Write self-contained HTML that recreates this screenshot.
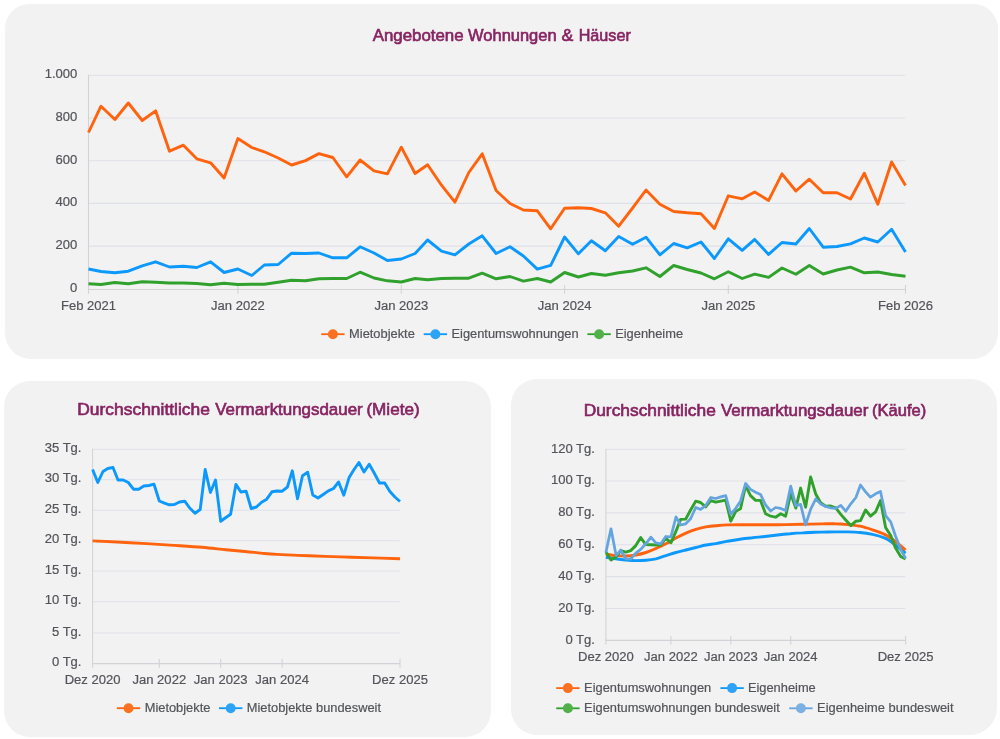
<!DOCTYPE html>
<html lang="de">
<head>
<meta charset="utf-8">
<title>Marktdaten</title>
<style>
html,body{margin:0;padding:0;background:#fff;}
body{width:1000px;height:739px;position:relative;overflow:hidden;font-family:"Liberation Sans",sans-serif;}
.card{position:absolute;background:#f2f2f2;border-radius:26px;}
#c1{left:4.6px;top:4.2px;width:993.7px;height:354.9px;border-radius:24.5px 24.5px 26px 26px;}
#c2{left:3.6px;top:380.5px;width:487.7px;height:356.8px;}
#c3{left:510.9px;top:378.6px;width:486.5px;height:356px;border-radius:26px 26px 27.5px 26px;}
svg{position:absolute;left:0;top:0;}
#wrap{position:absolute;left:0;top:0;width:1000px;height:739px;filter:blur(.35px);}
.t{font-family:"Liberation Sans",sans-serif;font-size:13.05px;fill:#53545a;stroke:#53545a;stroke-width:.2px;}
.l{font-family:"Liberation Sans",sans-serif;font-size:12.85px;fill:#53545a;stroke:#53545a;stroke-width:.2px;}
.h{font-family:"Liberation Sans",sans-serif;font-size:15.7px;fill:#872462;stroke:#872462;stroke-width:.6px;}
</style>
</head>
<body>
<div id="wrap">
<div class="card" id="c1"></div>
<div class="card" id="c2"></div>
<div class="card" id="c3"></div>
<svg width="1000" height="739" viewBox="0 0 1000 739">
<g>
<line x1="88.5" y1="75.30" x2="905.2" y2="75.30" stroke="#dfe1e8" stroke-width="1.1"/>
<line x1="88.5" y1="118.00" x2="905.2" y2="118.00" stroke="#dfe1e8" stroke-width="1.1"/>
<line x1="88.5" y1="160.70" x2="905.2" y2="160.70" stroke="#dfe1e8" stroke-width="1.1"/>
<line x1="88.5" y1="203.40" x2="905.2" y2="203.40" stroke="#dfe1e8" stroke-width="1.1"/>
<line x1="88.5" y1="246.10" x2="905.2" y2="246.10" stroke="#dfe1e8" stroke-width="1.1"/>
<line x1="88.0" y1="289.50" x2="905.5" y2="289.50" stroke="#d2d3d6" stroke-width="1.1"/>
<line x1="88.5" y1="74.8" x2="88.5" y2="293.7" stroke="#d2d3d6" stroke-width="1.1"/>
<line x1="237.9" y1="285.0" x2="237.9" y2="293.7" stroke="#d2d3d6" stroke-width="1.1"/>
<line x1="401.3" y1="285.0" x2="401.3" y2="293.7" stroke="#d2d3d6" stroke-width="1.1"/>
<line x1="564.6" y1="285.0" x2="564.6" y2="293.7" stroke="#d2d3d6" stroke-width="1.1"/>
<line x1="728.3" y1="285.0" x2="728.3" y2="293.7" stroke="#d2d3d6" stroke-width="1.1"/>
<line x1="905.5" y1="285.0" x2="905.5" y2="293.7" stroke="#d2d3d6" stroke-width="1.1"/>
<text x="77.3" y="78.2" text-anchor="end" class="t">1.000</text>
<text x="77.3" y="120.9" text-anchor="end" class="t">800</text>
<text x="77.3" y="163.6" text-anchor="end" class="t">600</text>
<text x="77.3" y="206.3" text-anchor="end" class="t">400</text>
<text x="77.3" y="249.0" text-anchor="end" class="t">200</text>
<text x="77.3" y="291.8" text-anchor="end" class="t">0</text>
<text x="88.5" y="309.9" text-anchor="middle" class="t">Feb 2021</text>
<text x="237.9" y="309.9" text-anchor="middle" class="t">Jan 2022</text>
<text x="401.3" y="309.9" text-anchor="middle" class="t">Jan 2023</text>
<text x="564.6" y="309.9" text-anchor="middle" class="t">Jan 2024</text>
<text x="728.3" y="309.9" text-anchor="middle" class="t">Jan 2025</text>
<text x="905.5" y="309.9" text-anchor="middle" class="t">Feb 2026</text>
<polyline points="88.5,283.8 101.0,284.5 114.9,282.5 128.3,283.8 142.2,281.8 155.6,282.2 169.5,283.0 183.4,283.0 196.8,283.5 210.6,284.8 224.1,283.2 237.9,284.5 251.8,284.2 264.3,284.2 278.2,282.2 291.6,280.2 305.5,280.8 318.9,278.8 332.8,278.5 346.7,278.5 360.1,272.2 374.0,278.0 387.4,280.8 401.3,282.0 415.1,278.5 427.6,279.8 441.5,278.5 454.9,278.2 468.8,278.2 482.2,273.2 496.1,278.8 510.0,276.5 523.4,281.1 537.3,278.5 550.7,282.0 564.6,272.5 578.4,277.0 591.4,273.5 605.3,275.2 618.7,272.8 632.6,271.0 646.0,267.8 659.9,276.5 673.7,265.5 687.2,269.5 701.0,273.0 714.4,278.8 728.3,271.8 742.2,278.5 754.7,274.1 768.6,277.4 782.0,268.0 795.9,274.2 809.3,265.5 823.2,274.0 837.0,270.0 850.5,267.2 864.3,272.8 877.8,272.0 891.6,274.5 905.5,276.2" fill="none" stroke="#30a12c" stroke-width="2.9" stroke-linejoin="round" stroke-linecap="butt"/>
<polyline points="88.5,269.0 101.0,271.5 114.9,272.8 128.3,271.2 142.2,265.8 155.6,261.8 169.5,267.0 183.4,266.2 196.8,267.5 210.6,261.8 224.1,272.5 237.9,269.0 251.8,275.5 264.3,265.0 278.2,264.5 291.6,253.2 305.5,253.5 318.9,253.0 332.8,257.8 346.7,257.8 360.1,246.8 374.0,253.0 387.4,260.5 401.3,259.0 415.1,253.5 427.6,240.0 441.5,251.2 454.9,254.8 468.8,244.0 482.2,235.8 496.1,253.5 510.0,246.8 523.4,256.0 537.3,269.1 550.7,265.4 564.6,237.0 578.4,253.8 591.4,240.8 605.3,250.8 618.7,236.5 632.6,244.2 646.0,237.2 659.9,254.8 673.7,243.5 687.2,247.8 701.0,242.0 714.4,258.5 728.3,238.8 742.2,250.4 754.7,239.4 768.6,254.4 782.0,242.5 795.9,244.0 809.3,228.5 823.2,247.2 837.0,246.5 850.5,243.8 864.3,238.0 877.8,242.0 891.6,229.2 905.5,252.0" fill="none" stroke="#0d98fc" stroke-width="2.9" stroke-linejoin="round" stroke-linecap="butt"/>
<polyline points="88.5,132.5 101.0,106.2 114.9,119.5 128.3,103.0 142.2,120.5 155.6,110.8 169.5,151.2 183.4,145.2 196.8,158.8 210.6,162.8 224.1,178.0 237.9,138.5 251.8,147.5 264.3,151.8 278.2,158.0 291.6,165.0 305.5,160.6 318.9,153.6 332.8,157.5 346.7,176.8 360.1,160.0 374.0,170.8 387.4,173.8 401.3,147.2 415.1,173.5 427.6,164.8 441.5,185.2 454.9,202.2 468.8,172.5 482.2,153.8 496.1,190.5 510.0,203.5 523.4,210.0 537.3,210.8 550.7,228.8 564.6,208.2 578.4,207.8 591.4,208.5 605.3,212.8 618.7,226.2 632.6,208.0 646.0,190.0 659.9,204.2 673.7,211.5 687.2,212.8 701.0,213.8 714.4,228.5 728.3,195.8 742.2,198.8 754.7,192.0 768.6,200.4 782.0,173.8 795.9,191.0 809.3,179.2 823.2,192.8 837.0,192.8 850.5,199.0 864.3,173.2 877.8,204.2 891.6,162.0 905.5,185.5" fill="none" stroke="#ff630e" stroke-width="2.9" stroke-linejoin="round" stroke-linecap="butt"/>
<line x1="321.2" y1="334.2" x2="344.6" y2="334.2" stroke="#ff630e" stroke-width="1.8"/><circle cx="332.9" cy="334.2" r="5" fill="#fa7122"/>
<text x="349.1" y="337.8" text-anchor="start" class="l">Mietobjekte</text>
<line x1="423.7" y1="334.2" x2="447.1" y2="334.2" stroke="#0d98fc" stroke-width="1.8"/><circle cx="435.4" cy="334.2" r="5" fill="#2da3f8"/>
<text x="451.5" y="337.8" text-anchor="start" class="l">Eigentumswohnungen</text>
<line x1="587.4" y1="334.2" x2="610.8" y2="334.2" stroke="#30a12c" stroke-width="1.8"/><circle cx="599.1" cy="334.2" r="5" fill="#52b04a"/>
<text x="615.2" y="337.8" text-anchor="start" class="l">Eigenheime</text>
<text y="41.10" class="h"><tspan x="372.7" textLength="90.9" lengthAdjust="spacingAndGlyphs">Angebotene</tspan> <tspan x="468.1" textLength="88.5" lengthAdjust="spacingAndGlyphs">Wohnungen</tspan> <tspan x="561.6" textLength="11.8" lengthAdjust="spacingAndGlyphs">&amp;</tspan> <tspan x="578.7" textLength="52.1" lengthAdjust="spacingAndGlyphs">Häuser</tspan></text>
</g>
<g>
<line x1="92.6" y1="449.30" x2="399.7" y2="449.30" stroke="#dfe1e8" stroke-width="1.1"/>
<line x1="92.6" y1="479.80" x2="399.7" y2="479.80" stroke="#dfe1e8" stroke-width="1.1"/>
<line x1="92.6" y1="510.30" x2="399.7" y2="510.30" stroke="#dfe1e8" stroke-width="1.1"/>
<line x1="92.6" y1="540.80" x2="399.7" y2="540.80" stroke="#dfe1e8" stroke-width="1.1"/>
<line x1="92.6" y1="571.00" x2="399.7" y2="571.00" stroke="#dfe1e8" stroke-width="1.1"/>
<line x1="92.6" y1="601.80" x2="399.7" y2="601.80" stroke="#dfe1e8" stroke-width="1.1"/>
<line x1="92.6" y1="633.00" x2="399.7" y2="633.00" stroke="#dfe1e8" stroke-width="1.1"/>
<line x1="92.1" y1="663.60" x2="400.0" y2="663.60" stroke="#d2d3d6" stroke-width="1.1"/>
<line x1="92.6" y1="448.8" x2="92.6" y2="667.8" stroke="#d2d3d6" stroke-width="1.1"/>
<line x1="159.3" y1="659.1" x2="159.3" y2="667.8" stroke="#d2d3d6" stroke-width="1.1"/>
<line x1="220.7" y1="659.1" x2="220.7" y2="667.8" stroke="#d2d3d6" stroke-width="1.1"/>
<line x1="282.2" y1="659.1" x2="282.2" y2="667.8" stroke="#d2d3d6" stroke-width="1.1"/>
<line x1="400.0" y1="659.1" x2="400.0" y2="667.8" stroke="#d2d3d6" stroke-width="1.1"/>
<text x="81.5" y="451.8" text-anchor="end" class="t">35 Tg.</text>
<text x="81.5" y="482.3" text-anchor="end" class="t">30 Tg.</text>
<text x="81.5" y="512.8" text-anchor="end" class="t">25 Tg.</text>
<text x="81.5" y="543.3" text-anchor="end" class="t">20 Tg.</text>
<text x="81.5" y="573.5" text-anchor="end" class="t">15 Tg.</text>
<text x="81.5" y="604.3" text-anchor="end" class="t">10 Tg.</text>
<text x="81.5" y="635.5" text-anchor="end" class="t">5 Tg.</text>
<text x="81.5" y="666.1" text-anchor="end" class="t">0 Tg.</text>
<text x="92.6" y="684.0" text-anchor="middle" class="t">Dez 2020</text>
<text x="159.3" y="684.0" text-anchor="middle" class="t">Jan 2022</text>
<text x="220.7" y="684.0" text-anchor="middle" class="t">Jan 2023</text>
<text x="282.2" y="684.0" text-anchor="middle" class="t">Jan 2024</text>
<text x="400.0" y="684.0" text-anchor="middle" class="t">Dez 2025</text>
<polyline points="92.6,469.5 97.8,482.5 103.0,471.5 107.8,468.5 113.0,467.5 118.0,480.0 123.2,480.0 128.3,482.5 133.5,489.2 138.7,489.2 143.8,486.0 149.0,485.5 154.0,484.2 159.3,501.0 164.5,503.2 169.2,504.8 174.4,504.5 179.5,502.0 184.7,501.2 189.7,508.0 195.0,513.2 200.2,509.5 205.2,469.5 210.4,492.5 215.5,480.0 220.7,521.2 225.9,517.5 230.6,514.2 235.9,484.4 240.9,492.0 246.1,491.2 251.2,508.5 256.4,507.0 261.6,502.2 266.7,499.2 271.9,491.8 276.9,491.0 282.2,491.2 287.4,487.0 292.3,470.8 297.5,498.8 302.5,475.8 307.7,472.2 312.8,495.0 318.0,498.0 323.2,494.5 328.3,490.8 333.5,488.5 338.6,482.0 343.8,495.2 349.0,477.8 353.7,470.0 358.9,462.5 364.0,472.0 369.2,464.2 374.2,473.0 379.5,483.0 384.7,483.0 389.7,491.2 394.9,497.0 400.0,501.5" fill="none" stroke="#0d98fc" stroke-width="2.9" stroke-linejoin="round" stroke-linecap="butt"/>
<path d="M92.6,540.9 C98.8,541.2 117.1,542.0 130.0,542.7 C142.9,543.4 158.0,544.3 170.0,545.1 C182.0,545.9 192.7,546.5 202.0,547.3 C211.3,548.1 218.8,549.1 226.0,549.8 C233.2,550.5 239.2,551.0 245.0,551.5 C250.8,552.0 255.7,552.6 261.0,553.1 C266.3,553.6 269.0,554.0 277.0,554.4 C285.0,554.8 298.3,555.4 309.0,555.8 C319.7,556.2 330.3,556.5 341.0,556.9 C351.7,557.2 363.2,557.6 373.0,557.9 C382.8,558.2 395.5,558.6 400.0,558.7" fill="none" stroke="#ff630e" stroke-width="2.9" stroke-linejoin="round"/>
<line x1="116.8" y1="708.2" x2="140.2" y2="708.2" stroke="#ff630e" stroke-width="1.8"/><circle cx="128.5" cy="708.2" r="5" fill="#fa7122"/>
<text x="144.7" y="711.8" text-anchor="start" class="l">Mietobjekte</text>
<line x1="219.0" y1="708.2" x2="242.4" y2="708.2" stroke="#0d98fc" stroke-width="1.8"/><circle cx="230.7" cy="708.2" r="5" fill="#2da3f8"/>
<text x="246.8" y="711.8" text-anchor="start" class="l">Mietobjekte bundesweit</text>
<text y="415.10" class="h"><tspan x="77.3" textLength="132.6" lengthAdjust="spacingAndGlyphs">Durchschnittliche</tspan> <tspan x="215.2" textLength="147.5" lengthAdjust="spacingAndGlyphs">Vermarktungsdauer</tspan> <tspan x="366.4" textLength="53.3" lengthAdjust="spacingAndGlyphs">(Miete)</tspan></text>
</g>
<g>
<line x1="605.9" y1="449.20" x2="905.3" y2="449.20" stroke="#dfe1e8" stroke-width="1.1"/>
<line x1="605.9" y1="481.06" x2="905.3" y2="481.06" stroke="#dfe1e8" stroke-width="1.1"/>
<line x1="605.9" y1="512.92" x2="905.3" y2="512.92" stroke="#dfe1e8" stroke-width="1.1"/>
<line x1="605.9" y1="544.78" x2="905.3" y2="544.78" stroke="#dfe1e8" stroke-width="1.1"/>
<line x1="605.9" y1="576.64" x2="905.3" y2="576.64" stroke="#dfe1e8" stroke-width="1.1"/>
<line x1="605.9" y1="608.50" x2="905.3" y2="608.50" stroke="#dfe1e8" stroke-width="1.1"/>
<line x1="605.4" y1="640.36" x2="905.6" y2="640.36" stroke="#d2d3d6" stroke-width="1.1"/>
<line x1="605.9" y1="448.7" x2="605.9" y2="644.6" stroke="#d2d3d6" stroke-width="1.1"/>
<line x1="670.9" y1="635.9" x2="670.9" y2="644.6" stroke="#d2d3d6" stroke-width="1.1"/>
<line x1="730.8" y1="635.9" x2="730.8" y2="644.6" stroke="#d2d3d6" stroke-width="1.1"/>
<line x1="790.7" y1="635.9" x2="790.7" y2="644.6" stroke="#d2d3d6" stroke-width="1.1"/>
<line x1="905.6" y1="635.9" x2="905.6" y2="644.6" stroke="#d2d3d6" stroke-width="1.1"/>
<text x="594.9" y="452.5" text-anchor="end" class="t">120 Tg.</text>
<text x="594.9" y="484.4" text-anchor="end" class="t">100 Tg.</text>
<text x="594.9" y="516.2" text-anchor="end" class="t">80 Tg.</text>
<text x="594.9" y="548.1" text-anchor="end" class="t">60 Tg.</text>
<text x="594.9" y="579.9" text-anchor="end" class="t">40 Tg.</text>
<text x="594.9" y="611.8" text-anchor="end" class="t">20 Tg.</text>
<text x="594.9" y="643.7" text-anchor="end" class="t">0 Tg.</text>
<text x="605.9" y="660.9" text-anchor="middle" class="t">Dez 2020</text>
<text x="670.9" y="660.9" text-anchor="middle" class="t">Jan 2022</text>
<text x="730.8" y="660.9" text-anchor="middle" class="t">Jan 2023</text>
<text x="790.7" y="660.9" text-anchor="middle" class="t">Jan 2024</text>
<text x="905.6" y="660.9" text-anchor="middle" class="t">Dez 2025</text>
<path d="M605.9,557.2 C607.6,557.5 612.6,558.3 615.9,558.8 C619.2,559.2 622.6,559.7 625.9,560.0 C629.2,560.3 632.6,560.6 635.9,560.6 C639.2,560.6 642.6,560.6 645.9,560.2 C649.2,559.9 652.6,559.5 655.9,558.8 C659.2,558.0 662.6,556.6 665.9,555.6 C669.2,554.6 672.6,553.4 675.9,552.5 C679.2,551.6 682.6,550.8 685.9,550.0 C689.2,549.2 692.6,548.3 695.9,547.5 C699.2,546.7 702.6,545.6 705.9,545.0 C709.2,544.4 712.3,544.2 715.9,543.6 C719.5,543.0 723.5,542.0 727.5,541.2 C731.5,540.5 735.8,539.8 740.0,539.2 C744.2,538.7 748.3,538.2 752.5,537.8 C756.7,537.3 760.8,537.0 765.0,536.5 C769.2,536.0 773.3,535.5 777.5,535.0 C781.7,534.5 785.8,534.1 790.0,533.8 C794.2,533.4 798.3,533.1 802.5,532.9 C806.7,532.6 810.8,532.4 815.0,532.2 C819.2,532.1 824.2,532.1 827.5,532.0 C830.8,531.9 831.7,531.9 835.0,531.9 C838.3,531.9 843.3,531.8 847.5,531.9 C851.7,532.0 855.8,532.1 860.0,532.5 C864.2,532.9 868.3,533.5 872.5,534.4 C876.7,535.3 881.9,536.9 885.0,538.1 C888.1,539.4 889.2,540.4 891.2,541.9 C893.3,543.4 895.1,545.0 897.5,546.9 C899.9,548.8 904.2,552.1 905.6,553.1" fill="none" stroke="#0d98fc" stroke-width="2.9" stroke-linejoin="round"/>
<path d="M605.9,554.0 C607.6,554.3 612.6,555.3 615.9,555.6 C619.2,555.9 622.6,556.1 625.9,556.0 C629.2,555.9 632.6,555.6 635.9,555.0 C639.2,554.4 642.6,553.6 645.9,552.5 C649.2,551.4 652.6,550.0 655.9,548.5 C659.2,547.0 662.6,545.5 665.9,543.8 C669.2,542.0 672.6,539.9 675.9,538.1 C679.2,536.3 682.6,534.6 685.9,533.1 C689.2,531.6 692.6,530.4 695.9,529.4 C699.2,528.4 702.6,527.5 705.9,526.9 C709.2,526.3 712.3,526.0 715.9,525.7 C719.5,525.4 721.4,525.1 727.5,524.9 C733.6,524.7 744.2,524.8 752.5,524.8 C760.8,524.7 769.2,524.8 777.5,524.8 C785.8,524.7 795.0,524.4 802.5,524.3 C810.0,524.1 817.1,523.9 822.5,523.9 C827.9,523.8 830.8,523.6 835.0,523.8 C839.2,523.9 843.3,524.2 847.5,524.6 C851.7,525.0 855.8,525.4 860.0,526.2 C864.2,527.1 868.3,528.4 872.5,529.8 C876.7,531.1 880.8,532.4 885.0,534.6 C889.2,536.8 894.1,540.5 897.5,543.1 C900.9,545.7 904.2,549.1 905.6,550.2" fill="none" stroke="#ff630e" stroke-width="2.9" stroke-linejoin="round"/>
<polyline points="605.9,551.9 611.0,560.0 616.1,556.9 620.7,550.6 625.8,552.1 630.7,550.6 635.8,545.6 640.7,537.5 645.8,544.6 650.9,544.8 655.8,545.0 660.9,544.8 665.8,538.1 670.9,542.8 676.0,531.2 680.6,519.4 685.7,519.1 690.6,510.0 695.7,501.2 700.6,502.5 705.7,506.9 710.8,500.6 715.7,502.2 720.8,501.1 725.7,500.1 730.8,521.2 735.9,511.2 740.5,508.8 745.6,485.6 750.5,495.6 755.6,500.4 760.5,500.4 765.6,513.8 770.7,516.2 775.6,517.2 780.7,513.8 785.6,516.2 790.7,493.8 795.8,508.1 800.6,488.1 805.6,507.2 810.6,476.9 815.7,494.0 820.6,502.8 825.7,506.2 830.8,506.0 835.7,507.8 840.8,514.4 845.7,520.0 850.8,525.6 855.9,521.2 860.5,520.6 865.6,510.0 870.5,516.2 875.6,511.9 880.5,500.6 885.6,527.5 890.7,535.6 895.6,548.1 900.7,556.5 905.6,559.0" fill="none" stroke="#30a12c" stroke-width="2.9" stroke-linejoin="round" stroke-linecap="butt"/>
<polyline points="605.9,552.5 611.0,528.8 616.1,555.6 620.7,550.0 625.8,558.8 630.7,559.0 635.8,553.1 640.7,549.4 645.8,543.8 650.9,537.1 655.8,542.9 660.9,543.8 665.8,536.5 670.9,536.9 676.0,516.9 680.6,525.0 685.7,523.8 690.6,518.8 695.7,507.5 700.6,509.4 705.7,505.6 710.8,497.5 715.7,498.5 720.8,496.9 725.7,495.6 730.8,514.4 735.9,508.1 740.5,501.2 745.6,483.5 750.5,489.4 755.6,492.2 760.5,494.4 765.6,505.0 770.7,511.0 775.6,507.5 780.7,508.4 785.6,510.6 790.7,486.2 795.8,505.6 800.6,504.4 805.6,524.8 810.6,509.4 815.7,499.0 820.6,503.9 825.7,506.5 830.8,507.8 835.7,508.4 840.8,505.4 845.7,511.2 850.8,503.8 855.9,497.5 860.5,485.0 865.6,491.9 870.5,497.2 875.6,493.8 880.5,491.5 885.6,515.6 890.7,521.9 895.6,536.2 900.7,549.4 905.6,558.5" fill="none" stroke="#64a4df" stroke-width="2.75" stroke-linejoin="round" stroke-linecap="butt"/>
<line x1="556.2" y1="688.1" x2="579.6" y2="688.1" stroke="#ff630e" stroke-width="1.8"/><circle cx="567.9" cy="688.1" r="5" fill="#fa7122"/>
<text x="584.1" y="691.7" text-anchor="start" class="l">Eigentumswohnungen</text>
<line x1="720.4" y1="688.1" x2="743.8" y2="688.1" stroke="#0d98fc" stroke-width="1.8"/><circle cx="732.1" cy="688.1" r="5" fill="#2da3f8"/>
<text x="747.9" y="691.7" text-anchor="start" class="l">Eigenheime</text>
<line x1="556.2" y1="708.3" x2="579.6" y2="708.3" stroke="#30a12c" stroke-width="1.8"/><circle cx="567.9" cy="708.3" r="5" fill="#52b04a"/>
<text x="584.1" y="711.9" text-anchor="start" class="l">Eigentumswohnungen bundesweit</text>
<line x1="789.2" y1="708.3" x2="812.6" y2="708.3" stroke="#64a4df" stroke-width="1.8"/><circle cx="800.9" cy="708.3" r="5" fill="#7ab0e3"/>
<text x="817.1" y="711.9" text-anchor="start" class="l">Eigenheime bundesweit</text>
<text y="415.50" class="h"><tspan x="583.7" textLength="132.1" lengthAdjust="spacingAndGlyphs">Durchschnittliche</tspan> <tspan x="720.9" textLength="147.5" lengthAdjust="spacingAndGlyphs">Vermarktungsdauer</tspan> <tspan x="872.1" textLength="54.1" lengthAdjust="spacingAndGlyphs">(Käufe)</tspan></text>
</g>
</svg>
</div>
</body>
</html>
